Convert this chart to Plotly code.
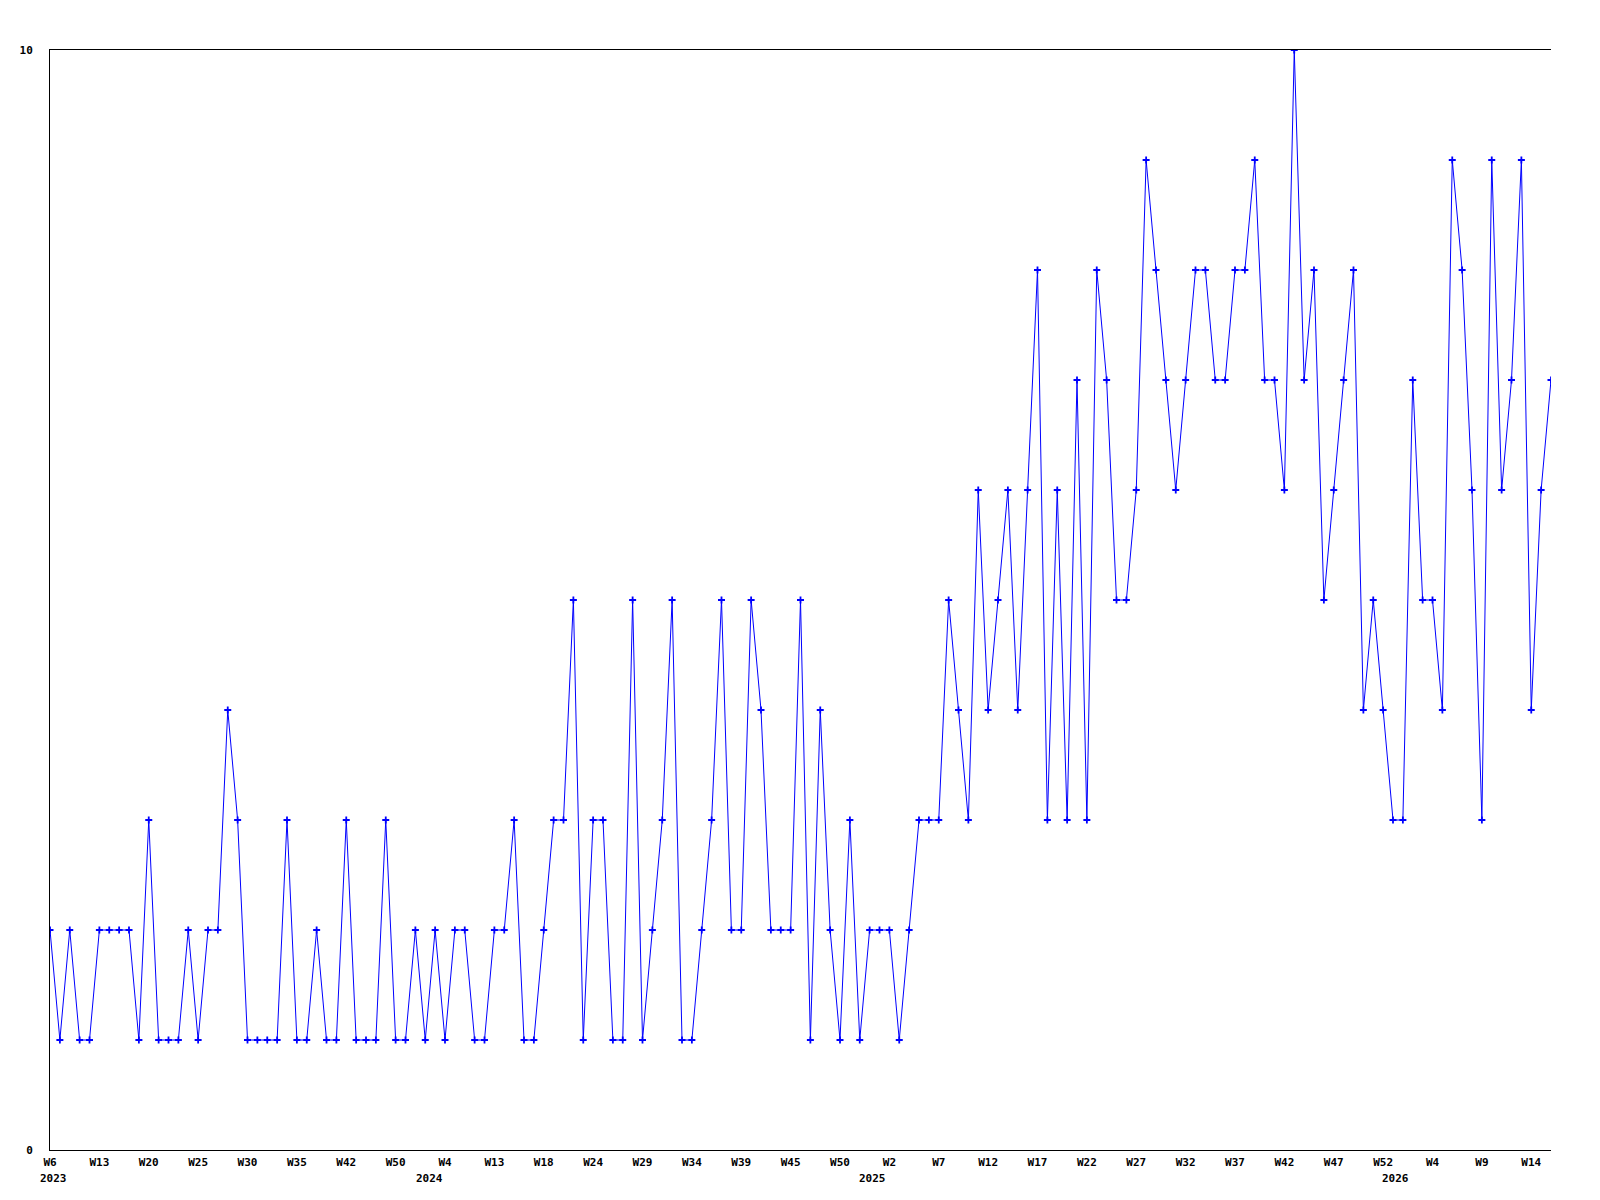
import plotly.graph_objects as go

# Weekly values (one per point, left to right)
values = [
    2, 1, 2, 1, 1, 2, 2, 2, 2, 1,
    3, 1, 1, 1, 2, 1, 2, 2, 4, 3,
    1, 1, 1, 1, 3, 1, 1, 2, 1, 1,
    3, 1, 1, 1, 3, 1, 1, 2, 1, 2,
    1, 2, 2, 1, 1, 2, 2, 3, 1, 1,
    2, 3, 3, 5, 1, 3, 3, 1, 1, 5,
    1, 2, 3, 5, 1, 1, 2, 3, 5, 2,
    2, 5, 4, 2, 2, 2, 5, 1, 4, 2,
    1, 3, 1, 2, 2, 2, 1, 2, 3, 3,
    3, 5, 4, 3, 6, 4, 5, 6, 4, 6,
    8, 3, 6, 3, 7, 3, 8, 7, 5, 5,
    6, 9, 8, 7, 6, 7, 8, 8, 7, 7,
    8, 8, 9, 7, 7, 6, 10, 7, 8, 5,
    6, 7, 8, 4, 5, 4, 3, 3, 7, 5,
    5, 4, 9, 8, 6, 3, 9, 6, 7, 9,
    4, 6, 7,
]
point_index = list(range(len(values)))

# X tick labels (one every 5 points)
week_labels = [
    "W6", "W13", "W20", "W25", "W30", "W35", "W42", "W50",
    "W4", "W13", "W18", "W24", "W29", "W34", "W39", "W45", "W50",
    "W2", "W7", "W12", "W17", "W22", "W27", "W32", "W37", "W42", "W47", "W52",
    "W4", "W9", "W14",
]
week_tick_index = list(range(0, len(values), 5))

# Year labels and where they sit along the point index
year_labels = ["2023", "2024", "2025", "2026"]
year_positions = [0.4, 38.4, 83.3, 136.3]

y_ticks = [0, 10]

FONT = dict(family="DejaVu Sans Mono", size=11, color="black", weight="bold")
BLUE = "#0000ff"

fig = go.Figure()
fig.add_trace(go.Scatter(
    x=point_index,
    y=values,
    mode="lines+markers",
    line=dict(color=BLUE, width=1),
    marker=dict(symbol="cross-thin", size=5, color=BLUE,
                line=dict(color=BLUE, width=1.8)),
    hoverinfo="x+y",
    showlegend=False,
))

for label, pos in zip(year_labels, year_positions):
    fig.add_annotation(
        x=pos, y=-0.0255, xref="x", yref="paper",
        text=label, showarrow=False, font=FONT,
        xanchor="center", yanchor="middle",
    )

fig.update_layout(
    width=1600, height=1200,
    margin=dict(l=50, r=49, t=50, b=50, pad=0),
    paper_bgcolor="white",
    plot_bgcolor="white",
    font=FONT,
    showlegend=False,
)
fig.update_xaxes(
    range=[0, len(values) - 1],
    tickmode="array", tickvals=week_tick_index, ticktext=week_labels,
    showgrid=False, zeroline=False,
    showline=True, linecolor="black", linewidth=1, mirror=True,
    ticks="", ticklabelstandoff=2,
    tickfont=FONT, tickangle=0,
)
fig.update_yaxes(
    range=[0, 10],
    tickmode="array", tickvals=y_ticks, ticktext=[str(v) for v in y_ticks],
    showgrid=False, zeroline=False,
    showline=True, linecolor="black", linewidth=1, mirror=False,
    ticks="", ticklabelstandoff=14,
    tickfont=FONT,
)

fig.write_html(
    "out.html",
    config={"displayModeBar": False},
    post_script="document.body.style.margin='0';",
)
